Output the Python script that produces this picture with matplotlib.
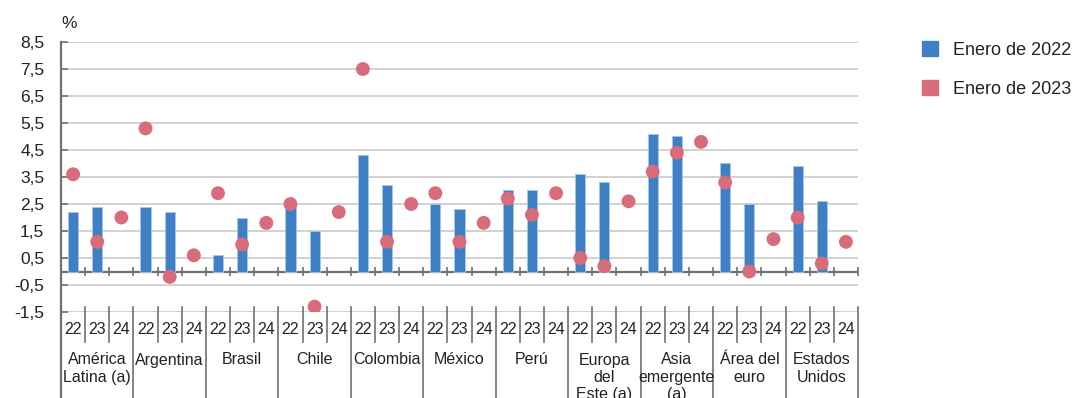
import numpy as np
import matplotlib.pyplot as plt
from matplotlib.patches import Patch

plt.rcParams['font.family'] = ['Liberation Sans', 'DejaVu Sans']

### DATA
groups = ["América\nLatina (a)", "Argentina", "Brasil", "Chile", "Colombia", "México",
          "Perú", "Europa\ndel\nEste (a)", "Asia\nemergente\n(a)", "Área del\neuro",
          "Estados\nUnidos"]
years = ["22", "23", "24"]

# Forecasts published in January 2022 (for 2022 and 2023)
jan22_for22 = [2.2, 2.4, 0.6, 2.5, 4.3, 2.5, 3.0, 3.6, 5.1, 4.0, 3.9]
jan22_for23 = [2.4, 2.2, 2.0, 1.5, 3.2, 2.3, 3.0, 3.3, 5.0, 2.5, 2.6]

# Forecasts published in January 2023 (for 2022, 2023 and 2024)
jan23_for22 = [3.6, 5.3, 2.9, 2.5, 7.5, 2.9, 2.7, 0.5, 3.7, 3.3, 2.0]
jan23_for23 = [1.1, -0.2, 1.0, -1.3, 1.1, 1.1, 2.1, 0.2, 4.4, 0.0, 0.3]
jan23_for24 = [2.0, 0.6, 1.8, 2.2, 2.5, 1.8, 2.9, 2.6, 4.8, 1.2, 1.1]

yticks = [-1.5, -0.5, 0.5, 1.5, 2.5, 3.5, 4.5, 5.5, 6.5, 7.5, 8.5]
ytick_labels = ["-1,5", "-0,5", "0,5", "1,5", "2,5", "3,5", "4,5", "5,5", "6,5", "7,5", "8,5"]

blue = "#3f7fc4"
pink = "#d96c7b"
grid_grey = "#c9c9c9"
axis_grey = "#707070"

### LAYOUT
W, H = 1077, 398
fig = plt.figure(figsize=(W / 100, H / 100), dpi=100)
ax = fig.add_axes([61 / W, 86 / H, 797 / W, 270 / H])

n = len(groups)
base = np.arange(n) * 3
x22, x23, x24 = base, base + 1, base + 2

# Bars: January 2022 forecasts
ax.bar(np.concatenate([x22, x23]), jan22_for22 + jan22_for23, width=0.42,
       color=blue, edgecolor="#a8c6ea", linewidth=0.6, zorder=3)

# Dots: January 2023 forecasts
ax.scatter(np.concatenate([x22, x23, x24]), jan23_for22 + jan23_for23 + jan23_for24,
           s=100, color=pink, edgecolors="none", zorder=4)

ax.set_xlim(-0.5, 3 * n - 0.5)
ax.set_ylim(-1.5, 8.5)

# Horizontal grid and zero line
for y in yticks:
    ax.axhline(y, color=grid_grey, lw=1.2, zorder=1)
ax.axhline(0, color=axis_grey, lw=1.6, zorder=2)

# Small ticks on the zero line between slots
bounds = np.arange(1, 3 * n + 1) - 0.5
ax.vlines(bounds, -0.17, 0.17, color=axis_grey, lw=1.2, zorder=2, clip_on=False)

ax.set_yticks(yticks)
ax.set_yticklabels(ytick_labels, fontsize=12.5, color="#222222")
ax.tick_params(axis="y", direction="in", length=5, width=1.2, color=axis_grey, pad=12)
ax.set_xticks([])

for side in ["top", "right", "bottom"]:
    ax.spines[side].set_visible(False)
ax.spines["left"].set_color(axis_grey)
ax.spines["left"].set_linewidth(1.6)

# Category table below the plot (data units on y, beyond the axes)
y_top, y_mid, y_bot = -1.31, -2.62, -4.7
ax.plot([-0.5, -0.5], [-1.5, y_bot], color=axis_grey, lw=1.6, clip_on=False,
        solid_capstyle="butt")
for b in bounds:
    is_group = (int(b + 0.5) % 3 == 0)
    ax.plot([b, b], [y_top, y_bot if is_group else y_mid], color=axis_grey,
            lw=1.2, clip_on=False)

for g in range(n):
    for j, yr in enumerate(years):
        ax.text(base[g] + j, -2.13, yr, ha="center", va="center", fontsize=11.5,
                color="#222222", clip_on=False)
    ax.text(base[g] + 1, -3.0, groups[g], ha="center", va="top", fontsize=11.5,
            color="#222222", linespacing=1.2, clip_on=False)

fig.text(61 / W, 1 - 23 / H, "%", ha="left", va="center", fontsize=12.5, color="#222222")

handles = [Patch(color=blue, label="Enero de 2022"),
           Patch(color=pink, label="Enero de 2023")]
fig.legend(handles=handles, loc="upper left", bbox_to_anchor=(922 / W, 1 - 41 / H),
           frameon=False, fontsize=13, handlelength=0.9, handleheight=0.9,
           handletextpad=0.8, labelspacing=1.2, borderpad=0, borderaxespad=0,
           labelcolor="#222222")

fig.savefig("out.png", dpi=100, facecolor="white")
